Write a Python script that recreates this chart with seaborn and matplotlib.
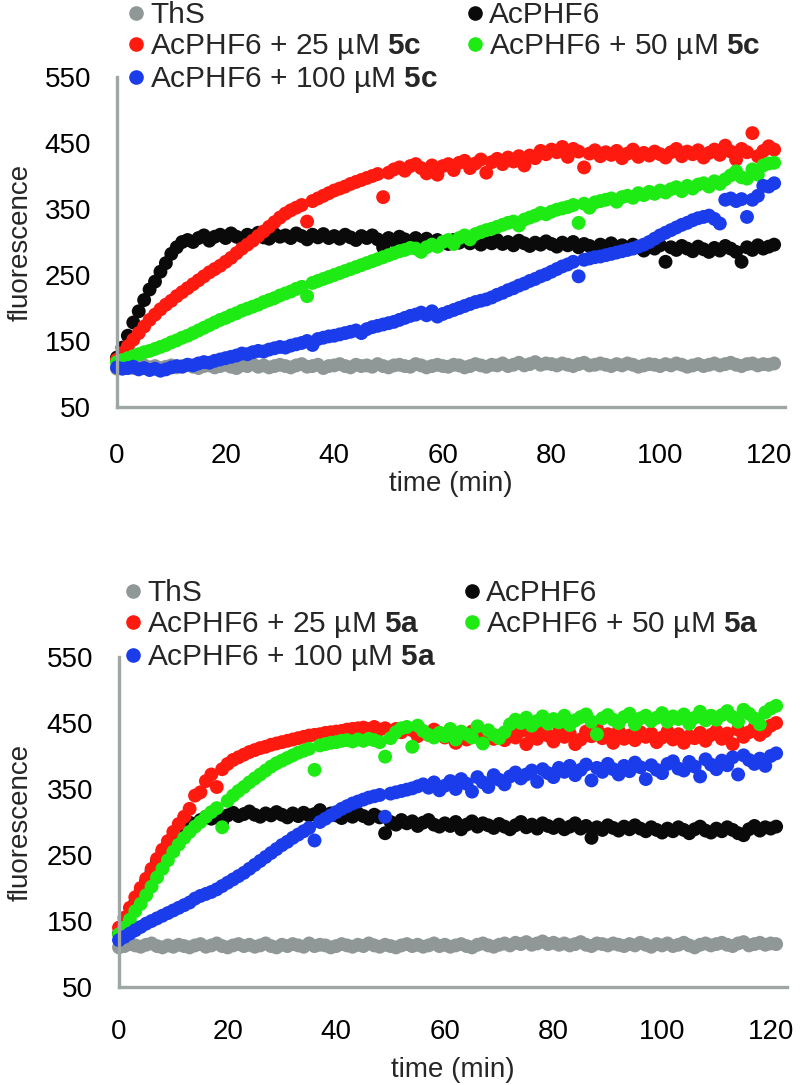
import matplotlib
matplotlib.use("Agg")
import matplotlib.pyplot as plt
from matplotlib.lines import Line2D
import seaborn as sns
import pandas as pd

# time points (min)
time = list(range(0, 122))

# ---- panel 1: compound 5c ----
ths_c = [108, 110, 112, 109, 111, 113, 110, 112, 109, 111,
         113, 110, 112, 114, 111, 109, 112, 113, 110, 112,
         114, 111, 109, 113, 112, 115, 111, 113, 110, 112,
         114, 112, 110, 113, 115, 111, 112, 114, 109, 112,
         113, 115, 112, 110, 114, 112, 113, 111, 115, 112,
         110, 113, 114, 112, 111, 115, 113, 110, 112, 114,
         112, 111, 114, 113, 110, 112, 115, 113, 111, 114,
         113, 116, 112, 114, 117, 113, 115, 118, 114, 116,
         115, 113, 116, 114, 112, 115, 117, 113, 114, 116,
         114, 112, 115, 113, 116, 114, 111, 113, 115, 114,
         112, 115, 113, 116, 114, 111, 113, 115, 112, 114,
         116, 113, 115, 117, 114, 112, 115, 116, 113, 115,
         114, 116]
phf6_c = [125, 140, 158, 178, 195, 212, 228, 240, 255, 268,
          282, 292, 300, 303, 300, 306, 310, 302, 308, 311,
          306, 313, 308, 304, 311, 309, 314, 307, 305, 312,
          308, 310, 306, 313, 309, 304, 311, 307, 312, 306,
          309, 305, 311, 307, 303, 309, 306, 310, 304, 292,
          306, 302, 308, 304, 300, 306, 301, 305, 299, 303,
          300, 297, 303, 299, 305, 298, 302, 296, 301, 298,
          303, 297, 300, 295, 302, 298, 294, 299, 296, 301,
          297, 293, 299, 295, 300, 292, 297, 294, 290, 296,
          293, 298, 291, 295, 289, 296, 292, 287, 294, 290,
          295, 270, 292, 288, 294, 290, 286, 293, 289, 285,
          291, 287, 294, 290, 285, 270, 292, 288, 295, 290,
          293, 296]
c25_c = [122, 132, 142, 152, 162, 172, 182, 190, 198, 205,
         211, 218, 224, 230, 236, 242, 248, 254, 259, 264,
         270, 276, 283, 290, 296, 302, 309, 316, 323, 330,
         337, 343, 348, 352, 356, 331, 362, 366, 370, 374,
         378, 381, 384, 388, 391, 394, 397, 400, 403, 368,
         405, 410, 413, 408, 415, 418, 412, 404, 416, 402,
         415, 418, 409, 420, 423, 412, 419, 425, 405, 421,
         426, 418, 428, 422, 430, 416, 431, 427, 438, 433,
         440, 436, 444, 429, 441, 437, 413, 434, 439, 430,
         436, 432, 438, 427, 434, 440, 429, 435, 431, 437,
         433, 428, 436, 441, 430, 437, 433, 439, 428, 435,
         440, 432, 446, 437, 425, 441, 436, 465, 430, 438,
         445, 440]
c50_c = [118, 121, 124, 127, 130, 133, 135, 138, 141, 144,
         148, 151, 155, 158, 162, 166, 170, 174, 178, 182,
         185, 189, 192, 196, 199, 202, 205, 209, 212, 215,
         219, 222, 225, 229, 232, 218, 238, 241, 244, 247,
         250, 253, 256, 259, 262, 265, 268, 271, 274, 277,
         280, 283, 286, 288, 291, 290, 285, 292, 296, 293,
         300, 303, 297, 306, 310, 304, 312, 315, 318, 320,
         323, 326, 329, 331, 325, 334, 337, 340, 344, 342,
         346, 349, 351, 353, 356, 329, 358, 352, 360, 362,
         364, 366, 361, 368, 370, 367, 374, 371, 376, 373,
         378, 375, 380, 383, 377, 385, 381, 387, 389, 384,
         392, 388, 395, 401, 407, 398, 396, 410, 402, 416,
         419, 420]
c100_c = [110, 108, 109, 111, 107, 109, 106, 108, 105, 107,
          110, 112, 111, 114, 113, 116, 118, 117, 120, 122,
          124, 126, 128, 131, 130, 133, 135, 134, 137, 139,
          141, 140, 143, 145, 147, 150, 144, 153, 155, 157,
          158, 160, 162, 164, 166, 162, 168, 171, 173, 175,
          177, 179, 182, 185, 188, 190, 193, 189, 195, 187,
          191, 194, 197, 200, 203, 206, 209, 211, 213, 216,
          220, 223, 227, 230, 234, 237, 241, 244, 248, 251,
          255, 259, 263, 266, 270, 248, 273, 275, 277, 278,
          280, 282, 284, 286, 288, 290, 293, 296, 300, 305,
          310, 314, 318, 322, 326, 329, 333, 336, 338, 340,
          335, 328, 364, 366, 362, 365, 338, 364, 370, 385,
          384, 389]

# ---- panel 2: compound 5a ----
ths_a = [110, 112, 115, 113, 111, 114, 116, 112, 110, 113,
         111, 114, 112, 110, 113, 115, 111, 113, 116, 112,
         110, 113, 115, 112, 114, 111, 113, 116, 112, 110,
         114, 112, 115, 113, 111, 116, 112, 114, 113, 110,
         112, 115, 113, 111, 114, 112, 116, 113, 111, 114,
         112, 110, 113, 115, 112, 114, 111, 113, 116, 112,
         114, 111, 113, 115, 112, 110, 114, 116, 113, 111,
         114, 116, 113, 117, 115, 118, 114, 116, 119, 115,
         117, 114, 116, 113, 115, 118, 114, 112, 116, 115,
         113, 116, 114, 112, 115, 113, 117, 114, 111, 115,
         113, 116, 112, 114, 117, 113, 110, 114, 116, 113,
         115, 117, 114, 112, 116, 118, 113, 115, 117, 114,
         116, 115]
phf6_a = [131, 145, 160, 178, 195, 210, 225, 240, 256, 268,
          278, 287, 294, 299, 296, 303, 308, 305, 311, 300,
          310, 314, 309, 312, 316, 311, 308, 313, 310, 315,
          311, 307, 313, 309, 314, 310, 312, 318, 309, 313,
          310, 306, 312, 308, 313, 309, 305, 311, 307, 283,
          300, 296, 303, 298, 301, 294, 299, 303, 296, 293,
          298, 294, 300, 289, 296, 301, 293, 298, 295, 291,
          297, 293, 289, 295, 300, 292, 296, 290, 298, 294,
          291, 296, 289, 293, 298, 290, 294, 276, 292, 288,
          295, 291, 287, 293, 289, 295, 290, 286, 292, 288,
          284, 290, 286, 292, 288, 283, 289, 293, 287, 284,
          290, 286, 292, 288, 283, 280, 289, 294, 287, 292,
          290, 293]
c25_a = [140, 155, 170, 186, 200, 214, 229, 244, 258, 271,
         285, 297, 308, 320, 340, 345, 362, 372, 353, 380,
         388, 394, 398, 402, 406, 409, 412, 414, 417, 419,
         421, 423, 425, 427, 429, 431, 432, 433, 435, 436,
         437, 438, 440, 441, 442, 443, 441, 444, 440, 442,
         438, 441, 436, 443, 439, 430, 437, 432, 440, 435,
         428, 434, 420, 431, 425, 437, 429, 422, 433, 426,
         430, 424, 435, 428, 438, 418, 432, 426, 440, 431,
         422, 436, 429, 434, 418, 425, 437, 430, 441, 427,
         433, 420, 438, 426, 431, 424, 436, 429, 434, 421,
         428, 437, 425, 433, 420, 430, 427, 435, 423, 432,
         438, 426, 434, 418, 440, 429, 436, 443, 432, 438,
         446, 450]
c50_a = [130, 140, 152, 165, 176, 189, 202, 216, 229, 242,
         255, 266, 276, 285, 293, 300, 308, 315, 321, 292,
         332, 340, 347, 353, 360, 366, 372, 378, 384, 389,
         393, 397, 401, 405, 408, 411, 379, 416, 418, 420,
         421, 423, 424, 422, 425, 423, 426, 424, 421, 399,
         427, 436, 442, 444, 414, 446, 438, 432, 428, 435,
         430, 441, 425, 437, 433, 428, 445, 419, 439, 432,
         427, 436, 448, 455, 450, 458, 446, 453, 460, 449,
         456, 451, 461, 447, 454, 459, 463, 452, 433, 457,
         462, 455, 450, 459, 464, 448, 457, 461, 453, 458,
         465, 452, 460, 456, 463, 449, 458, 467, 454, 461,
         455, 462, 468, 459, 452, 470, 464, 457, 448, 466,
         472, 476]
c100_a = [121, 126, 131, 136, 141, 146, 150, 154, 158, 162,
          166, 170, 174, 178, 184, 188, 191, 194, 198, 203,
          208, 213, 218, 223, 229, 235, 241, 247, 253, 259,
          265, 270, 276, 281, 286, 291, 272, 300, 305, 310,
          315, 320, 324, 328, 331, 334, 337, 339, 341, 308,
          343, 345, 347, 349, 351, 354, 357, 352, 360, 348,
          355, 362, 350, 365, 358, 346, 368, 360, 353, 371,
          364, 357, 369, 375, 366, 372, 378, 361, 380, 374,
          368, 382, 376, 385, 371, 379, 387, 363, 382, 376,
          388, 380, 372, 385, 377, 390, 383, 365, 386, 379,
          374, 388, 392, 381, 378, 391, 384, 369, 395, 387,
          380, 393, 386, 398, 372, 401, 394, 388, 396, 385,
          400, 404]

series_names = ["ThS", "AcPHF6", "25", "50", "100"]
colors = ["#8f9797", "#0a0a0a", "#ff1a0f", "#1eeb14", "#1a3ceb"]
x_ticks = [0, 20, 40, 60, 80, 100, 120]
y_ticks = [50, 150, 250, 350, 450, 550]

sns.set_style("white")
plt.rcParams["font.family"] = ["Liberation Sans", "DejaVu Sans"]
plt.rcParams["mathtext.fontset"] = "custom"
plt.rcParams["mathtext.bf"] = "Liberation Sans:bold"
plt.rcParams["mathtext.rm"] = "Liberation Sans"

axis_gray = "#9ea6a6"
fs = 20
leg_fs = 21.5

fig = plt.figure(figsize=(8, 10.85), dpi=100)
ax1 = fig.add_axes([117 / 800, (1085 - 407) / 1085, 668 / 800, 330 / 1085])
ax2 = fig.add_axes([119 / 800, (1085 - 987) / 1085, 668 / 800, 330 / 1085])


def make_frame(values):
    rows = []
    for name, vals in zip(series_names, values):
        rows.append(pd.DataFrame({"time": time, "fluorescence": vals, "series": name}))
    return pd.concat(rows, ignore_index=True)


panels = [
    (ax1, [ths_c, phf6_c, c25_c, c50_c, c100_c], "5c", (127, 1), (466, 1), -0.125, -0.194, 20),
    (ax2, [ths_a, phf6_a, c25_a, c50_a, c100_a], "5a", (124, 579), (463, 579), -0.128, -0.212, 17),
]

for ax, vals, comp, leg1_pos, leg2_pos, ylab_x, xlab_y, xpad in panels:
    df = make_frame(vals)
    sns.scatterplot(data=df, x="time", y="fluorescence", hue="series",
                    hue_order=series_names, palette=colors, s=100,
                    linewidth=0, legend=False, ax=ax, clip_on=False)
    ax.set_xlim(0, 123)
    ax.set_ylim(50, 550)
    ax.set_xticks(x_ticks)
    ax.set_yticks(y_ticks)
    for side in ["top", "right"]:
        ax.spines[side].set_visible(False)
    for side in ["left", "bottom"]:
        ax.spines[side].set_color(axis_gray)
        ax.spines[side].set_linewidth(2.4)
    ax.tick_params(axis="both", colors=axis_gray, width=2.4, length=6,
                   labelsize=fs, labelcolor="black", direction="out")
    ax.tick_params(axis="x", pad=xpad)
    ax.tick_params(axis="y", pad=12.5)
    ax.set_xlabel("time (min)", fontsize=fs)
    ax.set_ylabel("fluorescence", fontsize=fs)
    ax.yaxis.set_label_coords(ylab_x, 0.5)
    ax.xaxis.set_label_coords(0.5, xlab_y)

    labels = ["ThS", "AcPHF6",
              "AcPHF6 + 25 µM $\\mathbf{" + comp + "}$",
              "AcPHF6 + 50 µM $\\mathbf{" + comp + "}$",
              "AcPHF6 + 100 µM $\\mathbf{" + comp + "}$"]
    handles = [Line2D([], [], marker="o", linestyle="", color=c, markersize=9.5)
               for c in colors]
    kw = dict(frameon=False, fontsize=leg_fs, handlelength=0.6, handletextpad=0.17,
              labelspacing=0.1, borderpad=0, borderaxespad=0, loc="upper left",
              bbox_transform=fig.transFigure)
    leg1 = ax.legend([handles[0], handles[2], handles[4]],
                     [labels[0], labels[2], labels[4]],
                     bbox_to_anchor=(leg1_pos[0] / 800, 1 - leg1_pos[1] / 1085), **kw)
    ax.add_artist(leg1)
    ax.legend([handles[1], handles[3]], [labels[1], labels[3]],
              bbox_to_anchor=(leg2_pos[0] / 800, 1 - leg2_pos[1] / 1085), **kw)

fig.savefig("out.png", dpi=100)
